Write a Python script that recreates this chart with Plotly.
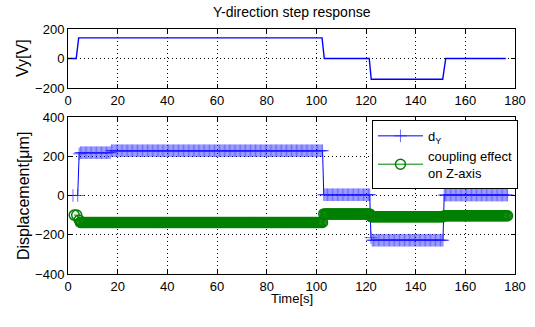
import plotly.graph_objects as go

# ---- Data ----
# Applied voltage Vy (breakpoints of the step signal)
vy_time = [0, 3.3, 4.3, 102.3, 103.2, 121.3, 122.1, 150.9, 152.1, 176.3]
vy_volt = [0, 0, 140, 140, 0, 0, -140, -140, 0, 0]

# Displacement d_Y: two early samples, then one sample every 0.5 s from 4.5 s to 177 s
dy_time = [2.0, 3.9] + [i / 2 for i in range(9, 355)]
dy_um = [
    0, 0,
    212,
    218, 218, 218, 218, 218, 218, 218, 218, 218, 218, 218, 218, 218, 218, 218, 218, 218, 218, 218, 218,
    218, 218, 218, 218, 218,
    228, 228, 228, 228, 228, 228, 228, 228, 228, 228, 228, 228, 228, 228, 228, 228, 228, 228, 228, 228,
    228, 228, 228, 228, 228, 228, 228, 228, 228, 228, 228, 228, 228, 228, 228, 228, 228, 228, 228, 228,
    228, 228, 228, 228, 228, 228, 228, 228, 228, 228, 228, 228, 228, 228, 228, 228, 228, 228, 228, 228,
    228, 228, 228, 228, 228, 228, 228, 228, 228, 228, 228, 228, 228, 228, 228, 228, 228, 228, 228, 228,
    228, 228, 228, 228, 228, 228, 228, 228, 228, 228, 228, 228, 228, 228, 228, 228, 228, 228, 228, 228,
    228, 228, 228, 228, 228, 228, 228, 228, 228, 228, 228, 228, 228, 228, 228, 228, 228, 228, 228, 228,
    228, 228, 228, 228, 228, 228, 228, 228, 228, 228, 228, 228, 228, 228, 228, 228, 228, 228, 228, 228,
    228, 228, 228, 228, 228, 228, 228, 228, 228, 228, 228, 228, 228, 228, 228, 228, 228, 228, 228, 228,
    228, 228, 228, 228, 228, 228, 228, 228, 228, 228, 228,
    4, 4, 4, 4, 4, 4, 4, 4, 4, 4, 4, 4, 4, 4, 4, 4, 4, 4, 4, 4,
    4, 4, 4, 4, 4, 4, 4, 4, 4, 4, 4, 4, 4, 4, 4, 4, 4, 4,
    -215,
    -228, -228, -228, -228, -228, -228, -228, -228, -228, -228, -228, -228, -228, -228, -228, -228, -228, -228, -228, -228,
    -228, -228, -228, -228, -228, -228, -228, -228, -228, -228, -228, -228, -228, -228, -228, -228, -228, -228, -228, -228,
    -228, -228, -228, -228, -228, -228, -228, -228, -228, -228, -228, -228, -228, -228, -228, -228, -228, -228,
    2, 2, 2, 2, 2, 2, 2, 2, 2, 2, 2, 2, 2, 2, 2, 2, 2, 2, 2, 2,
    2, 2, 2, 2, 2, 2, 2, 2, 2, 2, 2, 2, 2, 2, 2, 2, 2, 2, 2, 2,
    2, 2, 2, 2, 2, 2, 2, 2, 2, 2, 2, 2,
]

# Coupling effect on Z-axis: two early samples, then every 0.5 s from 4.5 s to 177 s
cz_time = [2.5, 3.5] + [i / 2 for i in range(9, 355)]
cz_um = [
    -100, -100,
    -125,
    -137, -137, -137, -137, -137, -137, -137, -137, -137, -137, -137, -137, -137, -137, -137, -137, -137, -137, -137, -137,
    -137, -137, -137, -137, -137, -137, -137, -137, -137, -137, -137, -137, -137, -137, -137, -137, -137, -137, -137, -137,
    -137, -137, -137, -137, -137, -137, -137, -137, -137, -137, -137, -137, -137, -137, -137, -137, -137, -137, -137, -137,
    -137, -137, -137, -137, -137, -137, -137, -137, -137, -137, -137, -137, -137, -137, -137, -137, -137, -137, -137, -137,
    -137, -137, -137, -137, -137, -137, -137, -137, -137, -137, -137, -137, -137, -137, -137, -137, -137, -137, -137, -137,
    -137, -137, -137, -137, -137, -137, -137, -137, -137, -137, -137, -137, -137, -137, -137, -137, -137, -137, -137, -137,
    -137, -137, -137, -137, -137, -137, -137, -137, -137, -137, -137, -137, -137, -137, -137, -137, -137, -137, -137, -137,
    -137, -137, -137, -137, -137, -137, -137, -137, -137, -137, -137, -137, -137, -137, -137, -137, -137, -137, -137, -137,
    -137, -137, -137, -137, -137, -137, -137, -137, -137, -137, -137, -137, -137, -137, -137, -137, -137, -137, -137, -137,
    -137, -137, -137, -137, -137, -137, -137, -137, -137, -137, -137, -137, -137, -137, -137, -137,
    -94, -94, -94, -94, -94, -94, -94, -94, -94, -94, -94, -94, -94, -94, -94, -94, -94, -94, -94, -94,
    -94, -94, -94, -94, -94, -94, -94, -94, -94, -94, -94, -94, -94, -94, -94, -94, -94, -94,
    -108, -108, -108, -108, -108, -108, -108, -108, -108, -108, -108, -108, -108, -108, -108, -108, -108, -108, -108, -108,
    -108, -108, -108, -108, -108, -108, -108, -108, -108, -108, -108, -108, -108, -108, -108, -108, -108, -108, -108, -108,
    -108, -108, -108, -108, -108, -108, -108, -108, -108, -108, -108, -108, -108, -108, -108, -108, -108, -108, -108,
    -103, -103, -103, -103, -103, -103, -103, -103, -103, -103, -103, -103, -103, -103, -103, -103, -103, -103, -103, -103,
    -103, -103, -103, -103, -103, -103, -103, -103, -103, -103, -103, -103, -103, -103, -103, -103, -103, -103, -103, -103,
    -103, -103, -103, -103, -103, -103, -103, -103, -103, -103, -103, -103,
]

x_ticks = [0, 20, 40, 60, 80, 100, 120, 140, 160, 180]
vy_ticks = [-200, 0, 200]
d_ticks = [-400, -200, 0, 200, 400]

FONT = "Liberation Sans, Arial, sans-serif"

fig = go.Figure()

fig.add_trace(go.Scatter(
    x=vy_time, y=vy_volt, mode="lines",
    line=dict(color="#0000ff", width=1.4),
    xaxis="x", yaxis="y", showlegend=False,
))

fig.add_trace(go.Scatter(
    x=dy_time, y=dy_um, mode="lines+markers", name="d<sub>Y</sub>",
    line=dict(color="#0000ff", width=1),
    marker=dict(symbol="cross-thin", size=9, line=dict(color="rgba(30,30,255,0.65)", width=1)),
    xaxis="x2", yaxis="y2",
))

fig.add_trace(go.Scatter(
    x=cz_time, y=cz_um, mode="lines+markers",
    name="coupling effect<br>on Z-axis",
    line=dict(color="#008000", width=1),
    marker=dict(symbol="circle-open", size=10, line=dict(color="#008000", width=1.5)),
    xaxis="x2", yaxis="y2",
))

axis_common = dict(
    showline=True, linecolor="black", linewidth=1, mirror="ticks",
    ticks="inside", ticklen=4, tickcolor="black",
    showgrid=True, gridcolor="black", griddash="1px,3px", gridwidth=1,
    zeroline=False,
    tickfont=dict(family=FONT, size=13, color="black"),
)

W, H = 535, 327
ML, MR, MT, MB = 68, 20, 29, 53
plot_h = H - MT - MB


def py(pix_y):
    """Convert a pixel y (from the top of the figure) to paper coordinates."""
    return (H - MB - pix_y) / plot_h


fig.update_layout(
    width=W, height=H,
    margin=dict(l=ML, r=MR, t=MT, b=MB, autoexpand=False),
    paper_bgcolor="white", plot_bgcolor="white",
    font=dict(family=FONT, size=13, color="black"),
    xaxis=dict(domain=[0, 1], range=[0, 180], tickvals=x_ticks, anchor="y", **axis_common),
    yaxis=dict(domain=[0.759, 1], range=[-200, 200], tickvals=vy_ticks, anchor="x", **axis_common),
    xaxis2=dict(domain=[0, 1], range=[0, 180], tickvals=x_ticks, anchor="y2", **axis_common),
    yaxis2=dict(domain=[0, 0.641], range=[-400, 400], tickvals=d_ticks, anchor="x2", **axis_common),
    legend=dict(
        x=0.68, y=0.629, xanchor="left", yanchor="top",
        bgcolor="white", bordercolor="black", borderwidth=1,
        font=dict(family=FONT, size=13, color="black"),
        tracegroupgap=0, itemwidth=45,
    ),
    showlegend=True,
    annotations=[
        dict(text="Y-direction step response", x=0.5, y=py(12), xref="paper", yref="paper",
             xanchor="center", yanchor="middle", showarrow=False,
             font=dict(family=FONT, size=14, color="black")),
        dict(text="Vy[V]", x=(23 - ML) / (W - ML - MR), y=py(58), xref="paper", yref="paper",
             xanchor="center", yanchor="middle", textangle=-90, showarrow=False,
             font=dict(family=FONT, size=16, color="black")),
        dict(text="Displacement[μm]", x=(23 - ML) / (W - ML - MR), y=py(196), xref="paper", yref="paper",
             xanchor="center", yanchor="middle", textangle=-90, showarrow=False,
             font=dict(family=FONT, size=16, color="black")),
        dict(text="Time[s]", x=0.5, y=py(298), xref="paper", yref="paper",
             xanchor="center", yanchor="middle", showarrow=False,
             font=dict(family=FONT, size=13, color="black")),
    ],
)

# Remove the browser's default 8px body margin so the figure fills the window.
fig.write_html(
    "out.html",
    config={"displayModeBar": False},
    post_script="document.body.style.margin='0px';",
)
